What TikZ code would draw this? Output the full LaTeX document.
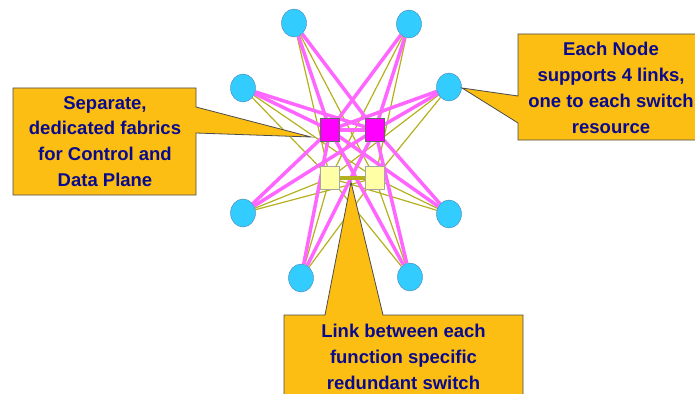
\documentclass[tikz,border=0pt]{standalone}
\usepackage{fontspec}
\setmainfont{Liberation Sans}
\usetikzlibrary{shapes.geometric, backgrounds}
\definecolor{nodeblue}{RGB}{51,204,255}
\definecolor{nodeedge}{RGB}{70,130,180}
\definecolor{ctrlpink}{RGB}{255,0,255}
\definecolor{linkpink}{RGB}{255,102,255}
\definecolor{datayellow}{RGB}{255,255,165}
\definecolor{linkolive}{RGB}{180,176,30}
\definecolor{calloutfill}{RGB}{252,190,18}
\definecolor{textnavy}{RGB}{10,10,140}

\begin{document}
\begin{tikzpicture}[x={(1pt,0)}, y={(0,-1pt)},
    endnode/.style={ellipse, draw=nodeedge, fill=nodeblue, minimum width=25pt, minimum height=28pt, inner sep=0pt},
    ctrlswitch/.style={rectangle, draw=black!60, fill=ctrlpink, minimum width=19pt, minimum height=23pt, inner sep=0pt},
    dataswitch/.style={rectangle, draw=black!35, fill=datayellow, minimum width=19pt, minimum height=23pt, inner sep=0pt},
    ctrllink/.style={linkpink, line width=3.5pt},
    datalink/.style={linkolive, line width=1.2pt},
    callout/.style={fill=calloutfill, draw=black!70, line width=0.8pt, line join=miter},
    callouttext/.style={align=center, text=textnavy, font=\fontsize{18.5}{25.8}\selectfont\bfseries}]
        \clip (0,0) rectangle (695,393);
        \useasboundingbox (0,0) rectangle (695,393);

        % Switches
        \node[ctrlswitch] (ctrlL) at (330,130) {};
        \node[ctrlswitch] (ctrlR) at (375,130) {};
        \node[dataswitch] (dataL) at (330,178) {};
        \node[dataswitch] (dataR) at (375,178) {};

        % Nodes
        \node[endnode] (tl) at (294,23) {};
        \node[endnode] (tr) at (409,24) {};
        \node[endnode] (ml) at (243,88) {};
        \node[endnode] (mr) at (449,87) {};
        \node[endnode] (ll) at (243,213) {};
        \node[endnode] (lr) at (449,214) {};
        \node[endnode] (bl) at (301,278) {};
        \node[endnode] (br) at (410,277) {};

        % Links (behind the switches)
        \begin{pgfonlayer}{background}
        \foreach \n in {tl,tr,ml,mr,ll,lr,bl,br} {
            \draw[datalink] (\n) -- (dataL.center);
            \draw[datalink] (\n) -- (dataR.center);
        }
        \foreach \n in {tl,tr,ml,mr,ll,lr,bl,br} {
            \draw[ctrllink] (\n) -- (ctrlL.center);
            \draw[ctrllink] (\n) -- (ctrlR.center);
        }
        \draw[ctrllink] (ctrlL) -- (ctrlR);
        \draw[linkolive, line width=4pt] (dataL) -- (dataR);
        \end{pgfonlayer}

        % Left callout
        \coordinate (fabtip) at (311,137);
        \draw[callout] (13,88) -- (196,88) -- (196,107) -- (fabtip) -- (196,133) -- (196,195) -- (13,195) -- cycle;
        \node[callouttext] (fabtext) at (105,141.5) {Separate,\\dedicated fabrics\\for Control and\\Data Plane};

        % Right callout
        \coordinate (nodetip) at (462,88);
        \draw[callout] (518,34) -- (705,34) -- (705,140) -- (518,140) -- (518,123) -- (nodetip) -- (518,96) -- cycle;
        \node[callouttext] (nodetext) at (611,88) {Each Node\\supports 4 links,\\one to each switch\\resource};

        % Bottom callout
        \coordinate (linktip) at (351,182);
        \draw[callout] (284,315) -- (325,315) -- (linktip) -- (383,315) -- (523,315) -- (523,400) -- (284,400) -- cycle;
        \node[callouttext] (linktext) at (403.5,357) {Link between each\\function specific\\redundant switch};
\end{tikzpicture}
\end{document}
